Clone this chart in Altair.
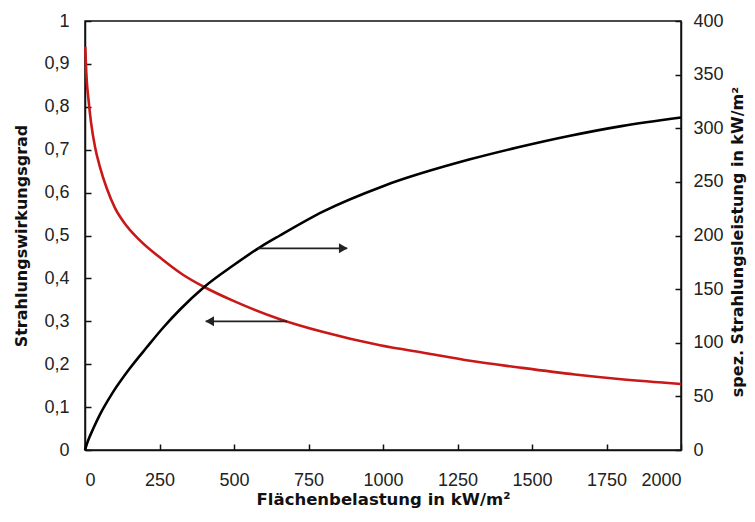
import altair as alt
import pandas as pd

# Red curve: Strahlungswirkungsgrad (left axis)
load_eff = [1, 3, 6, 12, 20, 34, 50, 73, 100, 140, 185, 262, 330, 400, 500, 654, 800, 990, 1150, 1292, 1450, 1644, 1800, 2000]
eff = [0.94, 0.90, 0.86, 0.815, 0.765, 0.705, 0.66, 0.61, 0.565, 0.522, 0.488, 0.443, 0.408, 0.380, 0.347, 0.305, 0.275, 0.244, 0.225, 0.208, 0.193, 0.176, 0.165, 0.154]

# Black curve: spez. Strahlungsleistung (right axis)
load_pow = [0, 10, 27, 50, 94, 150, 208, 262, 319, 400, 497, 587, 654, 800, 1000, 1292, 1450, 1628, 1800, 2000]
power = [0, 8.5, 19.5, 33, 54, 76, 96, 114, 131, 152, 172, 189, 200, 222.5, 246, 271, 282, 293, 302, 310]

x_ticks = [0, 250, 500, 750, 1000, 1250, 1500, 1750, 2000]
left_ticks = [0, 0.1, 0.2, 0.3, 0.4, 0.5, 0.6, 0.7, 0.8, 0.9, 1]
right_ticks = [0, 50, 100, 150, 200, 250, 300, 350, 400]

# arrows (start on curve, tip pointing to the axis)
arrow_r_start, arrow_r_tip, arrow_r_y = [580], [880], [188]
arrow_l_start, arrow_l_tip, arrow_l_y = [678], [405], [0.30]

LFONT = "Liberation Sans"
TFONT = "DejaVu Sans"
W, H = 596, 429

df_eff = pd.DataFrame({"load": load_eff, "eff": eff})
df_pow = pd.DataFrame({"load": load_pow, "power": power})
df_ar = pd.DataFrame({"x1": arrow_r_start, "x2": arrow_r_tip, "y": arrow_r_y})
df_al = pd.DataFrame({"x1": arrow_l_start, "x2": arrow_l_tip, "y": arrow_l_y})

xscale = alt.Scale(domain=[0, 2000], nice=False)
lscale = alt.Scale(domain=[0, 1], nice=False)
rscale = alt.Scale(domain=[0, 400], nice=False)
inward = alt.ExprRef(expr="-6")

x_axis = alt.Axis(
    values=x_ticks, format="d", title="Flächenbelastung in kW/m²",
    tickSize=inward, labelPadding=27, titleY=49, titleBaseline="middle",
    titleFontSize=16.5, titleFontWeight="bold", labelFontSize=18,
)
l_axis = alt.Axis(
    values=left_ticks, orient="left",
    labelExpr="replace(format(datum.value, '.1~f'), '.', ',')",
    title="Strahlungswirkungsgrad", tickSize=inward, labelPadding=22,
    titleAngle=270, titleX=-64, titleY=H / 2, titleBaseline="middle", titleAlign="center",
    titleFontSize=16, titleFontWeight="bold", labelFontSize=18,
)
r_axis = alt.Axis(
    values=right_ticks, orient="right", format="d",
    title="spez. Strahlungsleistung in kW/m²", tickSize=inward, labelPadding=18,
    titleAngle=270, titleX=56, titleY=H / 2 + 6, titleBaseline="middle", titleAlign="center",
    titleFontSize=16, titleFontWeight="bold", labelFontSize=18,
)

red = alt.Chart(df_eff).mark_line(color="#c81818", strokeWidth=2.6, interpolate="monotone").encode(
    x=alt.X("load:Q", scale=xscale, axis=x_axis),
    y=alt.Y("eff:Q", scale=lscale, axis=l_axis),
)
al_rule = alt.Chart(df_al).mark_rule(color="#222", strokeWidth=1.8).encode(
    x=alt.X("x1:Q", scale=xscale, axis=x_axis), x2="x2:Q",
    y=alt.Y("y:Q", scale=lscale, axis=l_axis),
)
al_head = alt.Chart(df_al).mark_point(shape="triangle-left", filled=True, size=100, color="#222", opacity=1, xOffset=4).encode(
    x=alt.X("x2:Q", scale=xscale, axis=x_axis),
    y=alt.Y("y:Q", scale=lscale, axis=l_axis),
)
left = alt.layer(red, al_rule, al_head)

black = alt.Chart(df_pow).mark_line(color="#000", strokeWidth=2.6, interpolate="monotone").encode(
    x=alt.X("load:Q", scale=xscale, axis=x_axis),
    y=alt.Y("power:Q", scale=rscale, axis=r_axis),
)
ar_rule = alt.Chart(df_ar).mark_rule(color="#222", strokeWidth=1.8).encode(
    x=alt.X("x1:Q", scale=xscale, axis=x_axis), x2="x2:Q",
    y=alt.Y("y:Q", scale=rscale, axis=r_axis),
)
ar_head = alt.Chart(df_ar).mark_point(shape="triangle-right", filled=True, size=100, color="#222", opacity=1, xOffset=-4).encode(
    x=alt.X("x2:Q", scale=xscale, axis=x_axis),
    y=alt.Y("y:Q", scale=rscale, axis=r_axis),
)
right = alt.layer(black, ar_rule, ar_head)

chart = alt.layer(left, right).resolve_scale(y="independent").properties(
    width=W, height=H,
    autosize=alt.AutoSizeParams(type="none"),
    padding={"left": 77, "top": 13, "right": 66, "bottom": 64},
    background="white",
).configure_view(stroke="#111", strokeWidth=1.5).configure_axis(
    grid=False, domainColor="#111", domainWidth=1.5, tickColor="#111", tickWidth=1.5,
    labelFont=LFONT, titleFont=TFONT, labelColor="#222", titleColor="#111",
)

chart.save("out.html", embed_options={"renderer": "svg", "actions": False})
